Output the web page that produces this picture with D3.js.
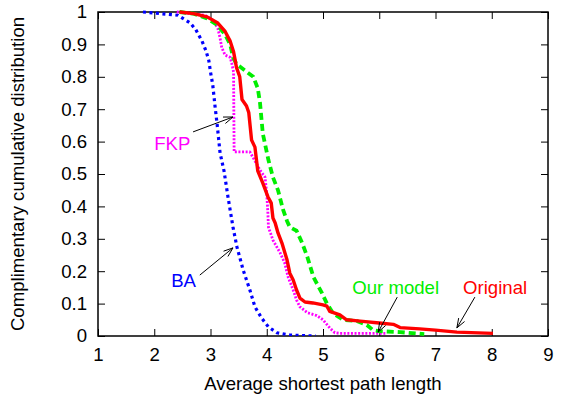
<!DOCTYPE html>
<html><head><meta charset="utf-8">
<script src="https://cdn.jsdelivr.net/npm/d3@7"></script>
<style>body{margin:0;background:#fff}</style>
</head><body><svg id="c" width="565" height="400"></svg>
<script>
// ---- data ----
const xTicks = [1,2,3,4,5,6,7,8,9];
const yTicks = [0,0.1,0.2,0.3,0.4,0.5,0.6,0.7,0.8,0.9,1];

const originalX = [2.45,2.7,2.94,3.13,3.26,3.35,3.41,3.44,3.46,3.52,3.56,3.64,3.68,3.73,3.79,3.84,3.93,4.02,4.08,4.11,4.15,4.20,4.27,4.36,4.41,4.47,4.53,4.59,4.68,4.82,5.0,5.07,5.12,5.3,5.42,5.66,6.0,6.25,6.37,6.72,7.0,7.38,8.02];
const originalY = [1.0,0.995,0.985,0.966,0.94,0.91,0.877,0.85,0.83,0.80,0.73,0.71,0.69,0.605,0.583,0.51,0.472,0.43,0.41,0.364,0.349,0.318,0.287,0.235,0.194,0.173,0.142,0.117,0.105,0.102,0.096,0.092,0.076,0.065,0.05,0.046,0.04,0.036,0.026,0.022,0.018,0.012,0.008];

const modelX = [2.45,2.7,2.94,3.12,3.26,3.35,3.40,3.46,3.61,3.76,3.84,3.88,3.93,4.03,4.11,4.2,4.29,4.36,4.41,4.53,4.63,4.72,4.83,4.98,5.07,5.18,5.36,5.6,5.78,5.89,6.0,6.37,6.8];
const modelY = [1.0,0.995,0.98,0.96,0.93,0.9,0.86,0.84,0.82,0.80,0.765,0.72,0.625,0.543,0.49,0.45,0.39,0.355,0.336,0.325,0.287,0.245,0.182,0.133,0.10,0.07,0.05,0.046,0.034,0.018,0.015,0.012,0.006];

const fkpX = [2.4,2.9,3.04,3.13,3.17,3.2,3.26,3.35,3.38,3.41,3.42,3.70,3.76,3.88,3.97,4.0,4.02,4.03,4.11,4.24,4.32,4.38,4.47,4.53,4.59,4.72,4.89,5.0,5.12,5.21,5.3,6.13];
const fkpY = [1.0,0.99,0.975,0.95,0.92,0.89,0.867,0.86,0.84,0.815,0.568,0.568,0.55,0.512,0.49,0.44,0.38,0.336,0.296,0.256,0.225,0.182,0.142,0.111,0.09,0.072,0.063,0.05,0.025,0.01,0.008,0.008];

const baX = [1.8,2.42,2.64,2.74,2.85,2.92,2.97,3.0,3.04,3.08,3.12,3.17,3.24,3.31,3.40,3.47,3.58,3.70,3.79,3.91,4.03,4.18,4.41,4.87];
const baY = [1.0,0.99,0.966,0.945,0.91,0.88,0.85,0.815,0.775,0.71,0.65,0.565,0.51,0.43,0.336,0.275,0.204,0.142,0.09,0.055,0.028,0.01,0.003,0.0];

const seriesNames = ["Original","Our model","FKP","BA"];
const seriesColors = ["#ff0000","#00ee00","#ff00ff","#0000ff"];

// annotation labels: [label x, label y] and arrows [fromX, fromY, toX, toY] in data units
const labelPos = [[7.49,0.13],[5.52,0.13],[2.0,0.575],[2.3,0.15]];
const arrowPos = [[7.7,0.12,7.38,0.025],[6.32,0.12,5.98,0.012],[2.69,0.63,3.4,0.676],[2.81,0.188,3.4,0.272]];

// ---- chart ----
const svg = d3.select("#c");
const L = 98, R = 548, T = 12, B = 336;
const x = d3.scaleLinear().domain([1,9]).range([L,R]);
const y = d3.scaleLinear().domain([0,1]).range([B,T]);
const font = "'Liberation Sans', Arial, Helvetica, sans-serif";
const fs = 18.6;

function styleAxis(g, showText){
  g.select(".domain").remove();
  g.selectAll(".tick line").attr("stroke","#000").attr("stroke-width",1);
  g.selectAll("text").attr("font-family",font).attr("font-size",fs).attr("fill","#000");
  if(!showText) g.selectAll("text").remove();
}
svg.append("g").attr("transform",`translate(0,${B})`)
  .call(d3.axisBottom(x).tickValues(xTicks).tickSizeInner(-7).tickSizeOuter(0).tickPadding(12).tickFormat(d3.format("d")))
  .call(g=>styleAxis(g,true));
svg.append("g").attr("transform",`translate(0,${T})`)
  .call(d3.axisTop(x).tickValues(xTicks).tickSizeInner(-7).tickSizeOuter(0))
  .call(g=>styleAxis(g,false));
svg.append("g").attr("transform",`translate(${L},0)`)
  .call(d3.axisLeft(y).tickValues(yTicks).tickSizeInner(-7).tickSizeOuter(0).tickPadding(11).tickFormat(d=>d3.format("~g")(d)))
  .call(g=>styleAxis(g,true));
svg.append("g").attr("transform",`translate(${R},0)`)
  .call(d3.axisRight(y).tickValues(yTicks).tickSizeInner(-7).tickSizeOuter(0))
  .call(g=>styleAxis(g,false));

svg.append("rect").attr("x",L).attr("y",T).attr("width",R-L).attr("height",B-T)
  .attr("fill","none").attr("stroke","#000").attr("stroke-width",1.5);

svg.append("clipPath").attr("id","clip").append("rect")
  .attr("x",L).attr("y",T-3).attr("width",R-L).attr("height",B-T+3);

const line = d3.line().x(d=>x(d[0])).y(d=>y(d[1]));
const data = [d3.zip(originalX,originalY), d3.zip(modelX,modelY), d3.zip(fkpX,fkpY), d3.zip(baX,baY)];
const dashes = [null,"7,4","2,1.6","3,3.5"];
const widths = [3.4,3.8,2.8,3.2];
const order = [3,2,1,0];
const plot = svg.append("g").attr("clip-path","url(#clip)");
order.forEach(i=>{
  plot.append("path").datum(data[i]).attr("d",line)
    .attr("fill","none").attr("stroke",seriesColors[i]).attr("stroke-width",widths[i])
    .attr("stroke-dasharray",dashes[i]).attr("stroke-linejoin","round");
});

// labels
seriesNames.forEach((n,i)=>{
  svg.append("text").attr("x",x(labelPos[i][0])).attr("y",y(labelPos[i][1]))
    .attr("font-family",font).attr("font-size",fs).attr("fill",seriesColors[i]).text(n);
});
// arrows
arrowPos.forEach(a=>{
  const x1=x(a[0]), y1=y(a[1]), x2=x(a[2]), y2=y(a[3]);
  const ang = Math.atan2(y2-y1,x2-x1), h=10, w=0.35;
  svg.append("line").attr("x1",x1).attr("y1",y1).attr("x2",x2).attr("y2",y2).attr("stroke","#000").attr("stroke-width",1);
  svg.append("path").attr("d",`M${x2-h*Math.cos(ang-w)},${y2-h*Math.sin(ang-w)}L${x2},${y2}L${x2-h*Math.cos(ang+w)},${y2-h*Math.sin(ang+w)}`)
    .attr("fill","none").attr("stroke","#000").attr("stroke-width",1);
});

// axis titles
svg.append("text").attr("x",(L+R)/2).attr("y",390).attr("text-anchor","middle")
  .attr("font-family",font).attr("font-size",fs).text("Average shortest path length");
svg.append("text").attr("transform",`translate(24,${(T+B)/2}) rotate(-90)`).attr("text-anchor","middle")
  .attr("font-family",font).attr("font-size",fs).text("Complimentary cumulative distribution");
</script></body></html>
